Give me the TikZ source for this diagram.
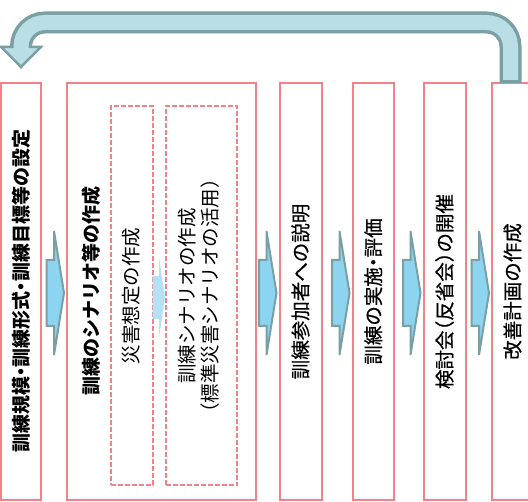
\documentclass[tikz,border=0pt]{standalone}
\usepackage{fontspec}
\usepackage{graphicx}
\usepackage{xcolor}
\newfontfamily\jpfont[RawFeature=+halt]{Noto Sans CJK JP}
\newfontfamily\jpmedium[RawFeature=+halt, FakeBold=0.6]{Noto Sans CJK JP}
\usetikzlibrary{positioning}

\definecolor{boxred}{RGB}{242,130,135}
\definecolor{arrowgrey}{RGB}{122,160,163}
\definecolor{arrowblue}{RGB}{140,212,240}
\definecolor{loopblue}{RGB}{185,222,230}
\definecolor{paleblue}{RGB}{180,226,245}

\begin{document}
\begin{tikzpicture}[x=1pt, y=-1pt, node distance=26pt, font=\jpfont\fontsize{19.5}{23}\selectfont]

\useasboundingbox (0,0) rectangle (528,502);
\clip (0,0) rectangle (528,502);

% Styles for boxes
\tikzstyle{box} = [rectangle, draw=boxred, line width=2pt, minimum width=41pt, minimum height=417pt, inner sep=0pt, outer sep=0pt, font=\jpmedium\fontsize{19.5}{23}\selectfont]
\tikzstyle{subbox} = [rectangle, draw=boxred, line width=2pt, dash pattern=on 5pt off 2pt, minimum height=379pt, inner sep=0pt, outer sep=0pt]
\tikzstyle{title} = [font=\jpfont\bfseries\fontsize{19}{23}\selectfont]
\tikzstyle{loopedge} = [arrowgrey, line width=22pt, rounded corners=24pt]
\tikzset{blockarrow/.pic={
  \draw[arrowgrey, line width=2pt, fill=arrowblue] (0,0) -- (-10,-62) -- (-10,-33) -- (-17.5,-33) -- (-17.5,33) -- (-10,33) -- (-10,62) -- cycle;
}}

% Nodes
\node [box, minimum width=40pt, title] (rules) at (21,291.5) {\rotatebox{90}{訓練規模・訓練形式・訓練目標等の設定}};
\node [box, minimum width=189pt, right=of rules] (scenario) {};
\node [title] (scenariotitle) at ([xshift=24pt]scenario.west) {\rotatebox{90}{訓練のシナリオ等の作成}};
\node [subbox, minimum width=42pt, anchor=south west] (hazard) at ([xshift=43.5pt, yshift=14.5pt]scenario.south west) {\rotatebox{90}{災害想定の作成}};
\node [subbox, minimum width=71.5pt, right=13pt of hazard] (drill) {\rotatebox{90}{\begin{tabular}{@{}c@{}}訓練シナリオの作成\\（標準災害シナリオの活用）\end{tabular}}};
\node [box, minimum width=42pt, right=23.5pt of scenario] (briefing) {\rotatebox{90}{訓練参加者への説明}};
\node [box, minimum width=41.5pt, right=31pt of briefing] (exercise) {\rotatebox{90}{訓練の実施・評価}};
\node [box, minimum width=42pt, right=29.5pt of exercise] (review) {\rotatebox{90}{検討会（反省会）の開催}};
\node [box, right=26.5pt of review] (improve) {\rotatebox{90}{改善計画の作成}};

% Edges
\pic at ([xshift=-3pt, yshift=-1.5pt]scenario.west) {blockarrow};
\pic at ([xshift=-3pt, yshift=-1.5pt]briefing.west) {blockarrow};
\pic at ([xshift=-3pt, yshift=-1.5pt]exercise.west) {blockarrow};
\pic at ([xshift=-3pt, yshift=-1.5pt]review.west) {blockarrow};
\pic at ([xshift=-3pt, yshift=-1.5pt]improve.west) {blockarrow};
\fill[paleblue] ([xshift=-0.5pt, yshift=-1.5pt]drill.west) -- ++(-6,-40) -- ++(0,18.5) -- ++(-6.5,0) -- ++(0,43) -- ++(6.5,0) -- ++(0,18.5) -- cycle;

% Feedback loop
\coordinate (loopstart) at ([xshift=-2pt]improve.north);
\coordinate (loopright) at ([yshift=60.5pt]loopstart);
\coordinate (headbase) at ([yshift=36pt]rules.north);
\draw[loopedge] (loopstart) -- (loopright) -| (headbase);
\draw[arrowgrey, line width=2.5pt, fill=loopblue] ([xshift=-19.75pt]headbase) -- ([xshift=19.75pt]headbase) -- ([yshift=-20pt]headbase) -- cycle;
\draw[loopedge, loopblue, line width=15pt] ([yshift=3pt]loopstart) -- (loopright) -| ([yshift=-3pt]headbase);

\end{tikzpicture}
\end{document}
